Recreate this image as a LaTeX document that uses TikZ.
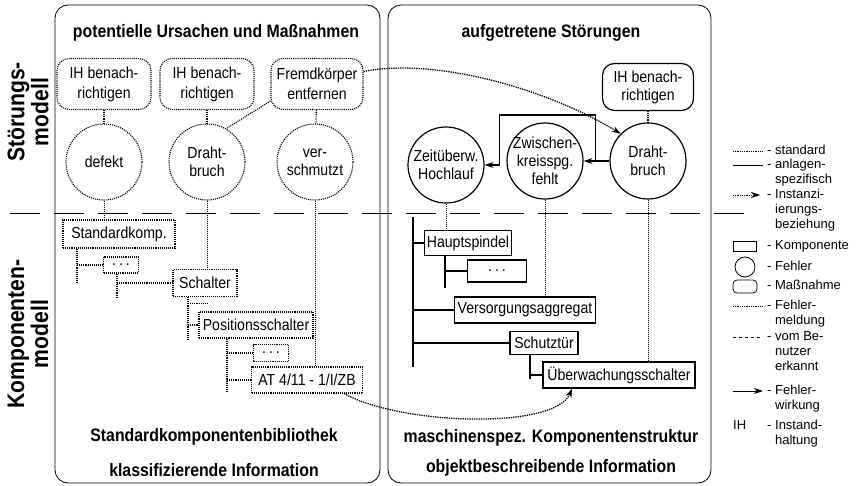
\documentclass[tikz,border=0pt]{standalone}
\usepackage{fontspec}
\setmainfont[FakeStretch=0.88]{Liberation Sans}
\newfontfamily\legschrift{Liberation Sans}
\usetikzlibrary{arrows.meta,positioning}

\newcommand{\schrift}[2]{\fontsize{#1}{#2}\selectfont}

\tikzset{
    every node/.style={font=\schrift{16}{19}},
    titel/.style={font=\schrift{18}{22}\bfseries},
    seite/.style={font=\schrift{24}{24}\bfseries, rotate=90, align=center},
    panel/.style={draw, line width=0.8pt, rounded corners=13pt},
    trenner/.style={line width=0.8pt, dash pattern=on 30pt off 14pt},
    % standard = dotted, anlagenspezifisch = solid
    std/.style={densely dotted, line width=1.1pt},
    spez/.style={line width=1.2pt},
    komp/.style 2 args={draw, rectangle, minimum width=#1, minimum height=#2, inner sep=0pt},
    fehler/.style={draw, circle, minimum size=76pt, inner sep=-3pt, align=center, font=\schrift{16}{18}},
    massn/.style={draw, rounded corners=12pt, minimum width=94pt, minimum height=51pt, inner sep=0pt, align=center, font=\schrift{16}{20}},
    meldung/.style={densely dotted, line width=1pt},
    benutzer/.style={dashed, line width=0.8pt},
    wirkung/.style={line width=1.2pt, -{Stealth[length=9pt,width=6pt]}},
    instanz/.style={densely dotted, line width=1.3pt, -{Stealth[length=9pt,width=6pt]}},
    legende/.style={font=\legschrift\schrift{13}{15}, align=left, anchor=north west, inner sep=0pt},
}

\begin{document}
\begin{tikzpicture}[x=1pt, y=-1pt]
    \useasboundingbox (0,0) rectangle (861,486);

    % two panels and the separator between the models
    \draw[panel] (55,5) rectangle (380,483);
    \draw[panel] (388,5) rectangle (711,483);
    \draw[trenner] (10,213) -- (745,213);

    % headings
    \node[titel] (tl) at (216,33) {potentielle Ursachen und Maßnahmen};
    \node[titel] (tr) at (551,33) {aufgetretene Störungen};
    \node[titel] (bl1) at (214,437) {Standardkomponentenbibliothek};
    \node[titel] (bl2) at (214,470) {klassifizierende Information};
    \node[titel] (br1) at (551,438) {maschinenspez. Komponentenstruktur};
    \node[titel] (br2) at (551,468) {objektbeschreibende Information};
    \node[seite] (sm) at (28,112) {Störungs-\\modell};
    \node[seite] (km) at (28,334) {Komponenten-\\modell};

    % left: measures and faults (standard)
    \node[massn, std] (m1) at (104,84) {IH benach-\\richtigen};
    \node[massn, std] (m2) at (207,84) {IH benach-\\richtigen};
    \node[massn, std, minimum width=92pt] (m3) at (317,84) {Fremdkörper\\entfernen};
    \node[fehler, std] (f1) at (104,162) {defekt};
    \node[fehler, std] (f2) at (207,162) {Draht-\\bruch};
    \node[fehler, std] (f3) at (315,162) {ver-\\schmutzt};

    \draw[std] (m1) -- (f1);
    \draw[std] (m2) -- (f2);
    \draw[std] (m3) -- (f3);
    \draw[std] (m3.200) -- (f2.60);

    % left: component library
    \node[komp={112pt}{28pt}, std] (k1) at (119,234) {Standardkomp.};
    \node[komp={35pt}{16pt}, std] (k2) at (121,265) {.\hspace{3pt}.\hspace{3pt}.};
    \node[komp={64pt}{27pt}, std] (k3) at (205,283) {Schalter};
    \node[komp={114pt}{26pt}, std] (k4) at (256,325) {Positionsschalter};
    \node[komp={35pt}{17pt}, std] (k5) at (271,353) {.\hspace{3pt}.\hspace{3pt}.};
    \node[komp={111pt}{26pt}, std] (k6) at (307,380) {AT 4/11 - 1/I/ZB};

    \coordinate (t1) at ([xshift=-42pt]k1.south);
    \draw[std] (t1) -- ++(0,34);
    \draw[std] (t1 |- k2.west) -- (k2.west);
    \coordinate (t2) at ([xshift=-4pt]k2.south);
    \draw[std] (t2) -- ++(0,24);
    \draw[std] (t2 |- k3.west) -- (k3.west);
    \coordinate (t3) at ([xshift=-17pt]k3.south);
    \draw[std] (t3) -- ++(0,44);
    \draw[std] (t3) ++(0,6) -- ++(20,0);
    \draw[std] (t3 |- k4.west) -- (k4.west);
    \coordinate (t4) at ([xshift=-29pt]k4.south);
    \draw[std] (t4) -- ++(0,54);
    \draw[std] (t4 |- k5.west) -- (k5.west);
    \draw[std] (t4 |- k6.west) -- (k6.west);

    \draw[meldung] (f1.south) -- (f1.south |- k1.north);
    \draw[meldung] (f2.south) -- (f2.south |- k3.north);
    \draw[meldung] (f3.south) -- (f3.south |- k6.north);

    % right: faults that occurred (plant specific)
    \node[massn, spez, minimum width=91pt, minimum height=47pt, font=\schrift{16}{18}] (m4) at (648,87) {IH benach-\\richtigen};
    \node[fehler, spez] (c1) at (446,165) {Zeitüberw.\\Hochlauf};
    \node[fehler, spez] (c2) at (545,161) {Zwischen-\\kreisspg.\\fehlt};
    \node[fehler, spez] (c3) at (648,161) {Draht-\\bruch};

    \draw[std] (m4) -- (c3);
    \draw[wirkung] (c3.west) -- (c2.east);
    \path (c3.west) -- (c2.east) coordinate[pos=0.55] (abzw);
    \draw[wirkung] (abzw) -- ++(0,-46) -| ([xshift=15pt]c1.east) -- (c1.east);

    % right: machine component structure
    \node[komp={87pt}{25pt}, spez] (r1) at (468,243) {Hauptspindel};
    \node[komp={59pt}{22pt}, spez] (r2) at (497,271) {.\hspace{3pt}.\hspace{3pt}.};
    \node[komp={141pt}{26pt}, spez] (r3) at (525,310) {Versorgungsaggregat};
    \node[komp={68pt}{23pt}, spez] (r4) at (544,343) {Schutztür};
    \node[komp={152pt}{26pt}, spez] (r5) at (619,375) {Überwachungsschalter};

    \coordinate (wurzel) at (413,217);
    \draw[spez] (wurzel) -- ++(0,150);
    \draw[spez] (wurzel |- r1.west) -- (r1.west);
    \draw[spez] (wurzel |- r3.west) -- (r3.west);
    \draw[spez] (wurzel |- r4.west) -- (r4.west);
    \coordinate (s1) at ([xshift=-23pt]r1.south);
    \draw[spez] (s1) -- ++(0,32);
    \draw[spez] (s1 |- r2.west) -- (r2.west);
    \coordinate (s4) at ([xshift=-14pt]r4.south);
    \draw[spez] (s4) -- ++(0,24);
    \draw[spez] (s4 |- r5.west) -- (r5.west);

    \draw[meldung] (c1.south) -- (c1.south |- r1.north);
    \draw[meldung] (c2.south) -- (c2.south |- r3.north);
    \draw[meldung] (c3.south) -- (c3.south |- r5.north);

    % instantiation links across the panels
    \draw[instanz] (m3.15) .. controls (430,58) and (540,85) .. (c3.135);
    \draw[instanz] (k6.340) .. controls (400,425) and (555,430) .. ([xshift=-47pt]r5.south);

    % legend
    \node[legende] (lg1) at (767,145) {- standard};
    \node[legende] (lg2) at (767,159) {- anlagen-\\\phantom{- }spezifisch};
    \node[legende] (lg3) at (767,189) {- Instanzi-\\\phantom{- }ierungs-\\\phantom{- }beziehung};
    \node[legende] (lg4) at (767,240) {- Komponente};
    \node[legende] (lg5) at (767,261) {- Fehler};
    \node[legende] (lg6) at (767,280) {- Maßnahme};
    \node[legende] (lg7) at (767,300) {- Fehler-\\\phantom{- }meldung};
    \node[legende] (lg8) at (767,331) {- vom Be-\\\phantom{- }nutzer\\\phantom{- }erkannt};
    \node[legende] (lg9) at (767,385) {- Fehler-\\\phantom{- }wirkung};
    \node[legende] (lg10) at (767,420) {- Instand-\\\phantom{- }haltung};
    \node[legende] (lgih) at (733,420) {IH};

    \draw[densely dotted, line width=0.8pt] (733,151) -- (763,151);
    \draw[line width=0.8pt] (733,165) -- (763,165);
    \draw[instanz, line width=0.8pt] (733,195) -- (760,195);
    \draw[line width=0.8pt] (733,241) rectangle (756,251);
    \draw[line width=0.8pt] (745,267) circle [radius=10pt];
    \draw[line width=0.8pt, rounded corners=4pt] (733,280) rectangle (757,293);
    \draw[meldung, line width=0.8pt] (733,306) -- (763,306);
    \draw[benutzer] (733,337) -- (763,337);
    \draw[wirkung, line width=0.8pt] (733,391) -- (763,391);
\end{tikzpicture}
\end{document}
